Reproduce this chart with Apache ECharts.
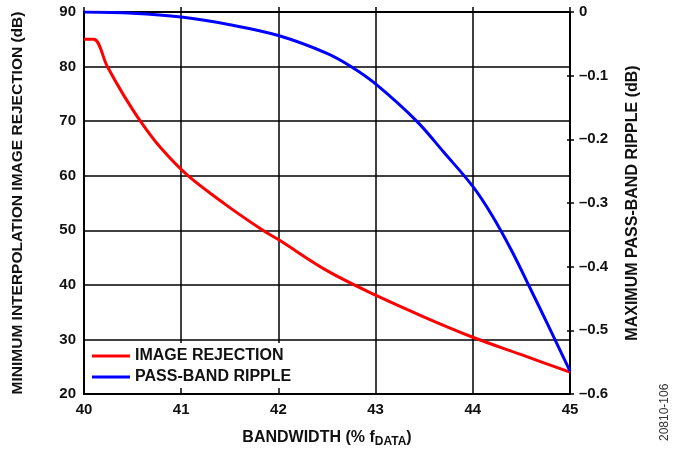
<!DOCTYPE html>
<html>
<head>
<meta charset="utf-8">
<script src="https://cdn.jsdelivr.net/npm/echarts@6/dist/echarts.min.js"></script>
<style>
  html, body { margin: 0; padding: 0; background: #fff; }
  #chart { width: 674px; height: 453px; }
</style>
</head>
<body>
<div id="chart"></div>
<script>
// image rejection (left axis, dB) vs bandwidth (% fDATA)
const rejX = [40, 40.1, 40.24, 40.4, 40.58, 40.78, 41.07, 41.45, 41.84, 42, 42.5, 43, 43.5, 44, 44.5, 45];
const rejY = [85, 85, 80, 75, 70, 65.3, 60, 54.8, 50, 48.3, 42.6, 38.1, 34.1, 30.4, 27.2, 24];

// pass-band ripple (right axis, dB)
const rippleX = [40, 40.5, 41, 41.5, 42, 42.5, 42.75, 43, 43.42, 43.7, 44, 44.2, 44.4, 44.6, 44.8, 45];
const rippleY = [0, -0.002, -0.008, -0.02, -0.037, -0.065, -0.086, -0.113, -0.171, -0.22, -0.274, -0.32, -0.375, -0.437, -0.5, -0.564];

const seriesNames = ['IMAGE REJECTION', 'PASS-BAND RIPPLE'];

const chart = echarts.init(document.getElementById('chart'));
const font = 'Liberation Sans, Arial, sans-serif';

chart.setOption({
  animation: false,
  textStyle: { fontFamily: font },
  grid: {
    left: 84, right: 104, top: 12, bottom: 58,
    show: true, borderColor: '#000', borderWidth: 2
  },
  legend: {
    orient: 'vertical',
    left: 86, top: 343,
    padding: [5, 8, 3, 6],
    itemGap: 5,
    itemWidth: 38, itemHeight: 3,
    icon: 'rect',
    backgroundColor: '#fff',
    textStyle: { fontSize: 16, fontWeight: 'bold', color: '#111', fontFamily: font },
    data: seriesNames
  },
  xAxis: {
    type: 'value', min: 40, max: 45, interval: 1,
    name: '{a|BANDWIDTH (% f}{sub|DATA}{a|)}',
    nameLocation: 'middle', nameGap: 34,
    nameTextStyle: {
      rich: {
        a: { fontSize: 16, fontWeight: 'bold', color: '#111', fontFamily: font },
        sub: { fontSize: 12, fontWeight: 'bold', color: '#111', fontFamily: font, padding: [8, 0, 0, 0] }
      }
    },
    axisLine: { lineStyle: { color: '#000', width: 2 } },
    axisTick: { inside: true, length: 5, lineStyle: { color: '#000', width: 1.5 } },
    axisLabel: { fontSize: 15, fontWeight: 'bold', color: '#111', margin: 8 },
    splitLine: { show: true, lineStyle: { color: '#000', width: 1.5 } }
  },
  yAxis: [
    {
      type: 'value', min: 20, max: 90, interval: 10,
      name: 'MINIMUM INTERPOLATION IMAGE REJECTION (dB)',
      nameLocation: 'middle', nameGap: 58,
      nameTextStyle: { fontSize: 15.5, fontWeight: 'bold', color: '#111' },
      axisLine: { show: true, lineStyle: { color: '#000', width: 2 } },
      axisTick: { show: false },
      axisLabel: { fontSize: 15, fontWeight: 'bold', color: '#111', margin: 8 },
      splitLine: { show: true, lineStyle: { color: '#000', width: 1.5 } }
    },
    {
      type: 'value', min: -0.6, max: 0, interval: 0.1, position: 'right',
      name: 'MAXIMUM PASS-BAND RIPPLE (dB)',
      nameLocation: 'middle', nameGap: 55, nameRotate: 90,
      nameTextStyle: { fontSize: 16, fontWeight: 'bold', color: '#111' },
      axisLine: { show: true, lineStyle: { color: '#000', width: 2 } },
      axisTick: { show: true, length: 4, lineStyle: { color: '#000', width: 1.5 } },
      axisLabel: {
        fontSize: 15, fontWeight: 'bold', color: '#111', margin: 9,
        formatter: v => (v === 0 ? '0' : '\u2013' + Math.abs(v).toFixed(1))
      },
      splitLine: { show: false }
    },
    {
      // inner half of the right-hand ticks
      type: 'value', min: -0.6, max: 0, interval: 0.1, position: 'right',
      axisLine: { show: false },
      axisTick: { show: true, inside: true, length: 3, lineStyle: { color: '#000', width: 1.5 } },
      axisLabel: { show: false },
      splitLine: { show: false }
    }
  ],
  series: [
    {
      name: seriesNames[0], type: 'line', yAxisIndex: 0,
      data: rejX.map((x, i) => [x, rejY[i]]),
      smooth: 0.35, showSymbol: false,
      lineStyle: { color: '#ff0000', width: 3 },
      itemStyle: { color: '#ff0000' }
    },
    {
      name: seriesNames[1], type: 'line', yAxisIndex: 1,
      data: rippleX.map((x, i) => [x, rippleY[i]]),
      smooth: 0.35, showSymbol: false,
      lineStyle: { color: '#0000ff', width: 3 },
      itemStyle: { color: '#0000ff' }
    }
  ],
  graphic: [
    {
      type: 'text', x: 659, y: 441, rotation: Math.PI / 2,
      style: { text: '20810-106', fontSize: 12, fill: '#333', fontFamily: font }
    }
  ]
});
</script>
</body>
</html>
